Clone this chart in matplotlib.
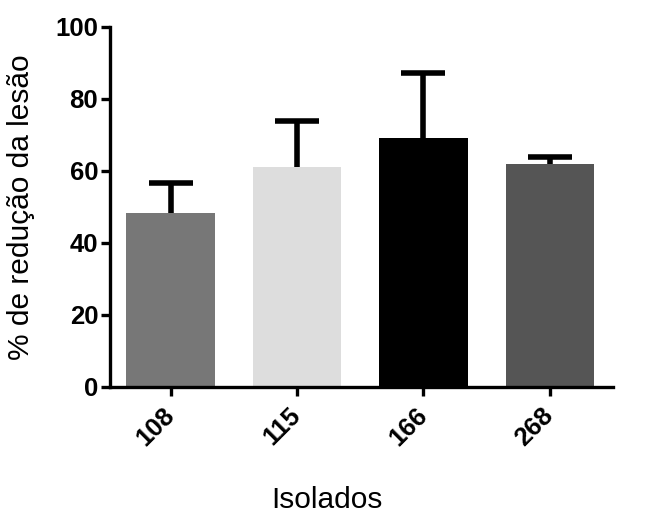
import matplotlib
matplotlib.use("Agg")
import matplotlib.pyplot as plt
import numpy as np

categories = ["108", "115", "166", "268"]
values = [48.3, 61.0, 69.3, 62.0]
errors = [8.3, 12.8, 18.0, 1.8]
colors = ["#777777", "#dddddd", "#000000", "#555555"]
yticks = [0, 20, 40, 60, 80, 100]

plt.rcParams['font.family'] = ['Liberation Sans', 'DejaVu Sans']

fig = plt.figure(figsize=(6.45, 5.19), dpi=100)
ax = fig.add_axes([110/645, 1-387/519, (613-110)/645, (387-27)/519])

x = np.arange(len(categories))
ax.bar(x, values, width=0.70, color=colors, zorder=2)
eb = ax.errorbar(x, values, yerr=[np.zeros(len(errors)), errors], fmt='none',
                 ecolor='black', elinewidth=4, capsize=16, capthick=4, zorder=1)
# hide the lower caps (only upper error shown)
caplines = eb.lines[1]
if len(caplines) >= 2:
    caplines[0].set_visible(False)

ax.set_xlim(-0.48, 3.5)
ax.set_ylim(0, 100)
ax.set_yticks(yticks)
ax.set_xticks(x)
ax.set_xticklabels(categories, rotation=45, ha='right', va='center',
                   rotation_mode='anchor', fontweight='bold', fontsize=18.5)
for lab in ax.get_yticklabels():
    lab.set_fontweight('bold')
    lab.set_fontsize(18.5)

for s in ['top', 'right']:
    ax.spines[s].set_visible(False)
for s in ['left', 'bottom']:
    ax.spines[s].set_linewidth(2.4)
ax.tick_params(axis='both', width=2.4, length=6.5)
ax.tick_params(axis='y', pad=2)
ax.tick_params(axis='x', pad=11)

fig.text(21/645, 1-207/519, "% de redução da lesão", rotation=90,
         ha='center', va='center', fontsize=21.5)
fig.text(327/645, 1-500/519, "Isolados", ha='center', va='center', fontsize=21.5)

fig.savefig("out.png", dpi=100)
